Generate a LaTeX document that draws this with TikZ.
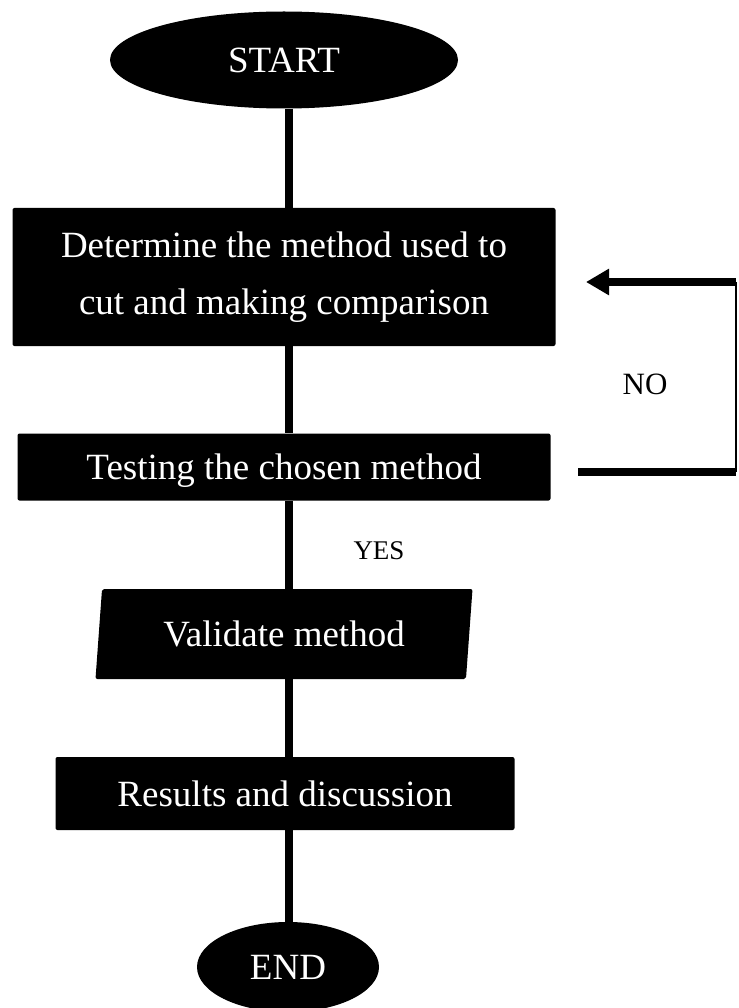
\documentclass[tikz,border=0pt]{standalone}
\usepackage{fontspec}
\setmainfont{Liberation Serif}
\usetikzlibrary{shapes.geometric,arrows.meta}
\tikzstyle{terminal}=[ellipse, fill=black, text=white, inner sep=0pt,
font=\fontsize{37}{42}\selectfont]
\tikzstyle{process}=[rectangle, fill=black, text=white, rounded corners=2pt,
inner sep=0pt, align=center, font=\fontsize{37}{57}\selectfont]
\tikzstyle{io}=[trapezium, trapezium left angle=76, trapezium right angle=104,
trapezium stretches body, fill=black, text=white, inner sep=0pt,
rounded corners=2pt, font=\fontsize{37}{42}\selectfont]
\tikzstyle{flow}=[line width=8pt]

\begin{document}
\begin{tikzpicture}[x=1pt,y=-1pt]
\useasboundingbox (0,0) rectangle (738,1008);
\node[terminal, minimum width=348pt, minimum height=97pt](start) at (284,60) {START};
\node[process, minimum width=543pt, minimum height=138pt](cutting) at (284,277)
{Determine the method used to\\cut and making comparison};
\node[process, minimum width=533pt, minimum height=67pt, text depth=0pt](testing) at (284,467) {Testing the chosen method};
\node[io, minimum width=377pt, minimum height=90pt](validate) at (284,634) {Validate method};
\node[process, minimum width=459pt, minimum height=73pt](results) at (285,793.5) {Results and discussion};
\node[terminal, minimum width=182pt, minimum height=90pt](finish) at (288,967) {END};
\node[font=\fontsize{27}{30}\selectfont](yes) at (379,551) {YES};
\node[font=\fontsize{31}{34}\selectfont](no) at (645,384) {NO};
\coordinate (loopA) at (578,472);
\coordinate (loopB) at (736,472);
\coordinate (loopC) at (736,282);
\coordinate (loopD) at (586,282);
\draw [flow](start.south -| 289,0) -- (cutting.north -| 289,0);
\draw [flow](cutting.south -| 289,0) -- (testing.north -| 289,0);
\draw [flow](testing.south -| 289,0) -- (validate.north -| 289,0);
\draw [flow](validate.south -| 289,0) -- (results.north -| 289,0);
\draw [flow](results.south -| 289,0) -- (finish.north -| 289,0);
\draw [flow](loopA) -- (loopB);
\draw [line width=1.5pt](loopB) -- (loopC);
\draw [flow,-{Triangle[length=23pt,width=25pt]}](loopC) -- (loopD);
\end{tikzpicture}
\end{document}
